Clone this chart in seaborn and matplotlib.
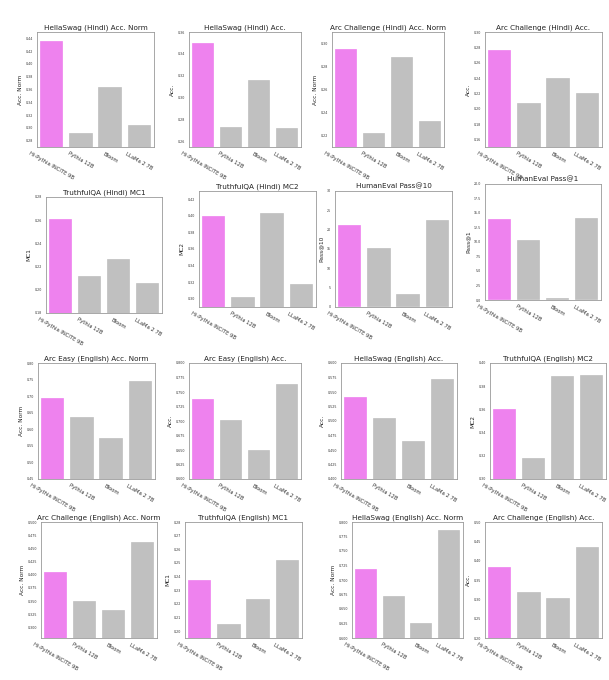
import pandas as pd
import matplotlib
matplotlib.use('Agg')
import matplotlib.pyplot as plt
import seaborn as sns

models = ['Hi-Pythia INCITE 9B', 'Pythia 12B', 'Bloom', 'LLaMa 2 7B']

titles = [
    'HellaSwag (Hindi) Acc. Norm', 'HellaSwag (Hindi) Acc.',
    'Arc Challenge (Hindi) Acc. Norm', 'Arc Challenge (Hindi) Acc.',
    'TruthfulQA (Hindi) MC1', 'TruthfulQA (Hindi) MC2',
    'HumanEval Pass@10', 'HumanEval Pass@1',
    'Arc Easy (English) Acc. Norm', 'Arc Easy (English) Acc.',
    'HellaSwag (English) Acc.', 'TruthfulQA (English) MC2',
    'Arc Challenge (English) Acc. Norm', 'TruthfulQA (English) MC1',
    'HellaSwag (English) Acc. Norm', 'Arc Challenge (English) Acc.',
]
ylabels = ['Acc. Norm', 'Acc.', 'Acc. Norm', 'Acc.',
           'MC1', 'MC2', 'Pass@10', 'Pass@1',
           'Acc. Norm', 'Acc.', 'Acc.', 'MC2',
           'Acc. Norm', 'MC1', 'Acc. Norm', 'Acc.']

scores = [
    [0.4353, 0.2920, 0.3634, 0.3040],
    [0.3497, 0.2733, 0.3160, 0.2720],
    [0.2954, 0.2226, 0.2885, 0.2327],
    [0.2759, 0.2070, 0.2406, 0.2203],
    [0.2610, 0.2122, 0.2263, 0.2059],
    [0.3995, 0.3024, 0.4039, 0.3177],
    [21.29, 15.17, 3.45, 22.41],
    [14.00, 10.43, 0.30, 14.12],
    [0.6931, 0.6367, 0.5722, 0.7456],
    [0.7372, 0.7015, 0.6502, 0.7631],
    [0.5412, 0.5044, 0.4652, 0.5729],
    [0.3605, 0.3179, 0.3890, 0.3896],
    [0.4059, 0.3497, 0.3340, 0.4628],
    [0.2373, 0.2054, 0.2237, 0.2520],
    [0.7195, 0.6724, 0.6259, 0.7856],
    [0.3828, 0.3181, 0.3026, 0.4345],
]
ylims = [(0.27, 0.45), (0.255, 0.36), (0.21, 0.31), (0.15, 0.30),
         (0.18, 0.28), (0.29, 0.43), (0, 30), (0, 20),
         (0.45, 0.80), (0.60, 0.80), (0.40, 0.60), (0.30, 0.40),
         (0.28, 0.50), (0.195, 0.28), (0.60, 0.80), (0.20, 0.50)]
yticks = [
    [0.28, 0.30, 0.32, 0.34, 0.36, 0.38, 0.40, 0.42, 0.44],
    [0.26, 0.28, 0.30, 0.32, 0.34, 0.36],
    [0.22, 0.24, 0.26, 0.28, 0.30],
    [0.16, 0.18, 0.20, 0.22, 0.24, 0.26, 0.28, 0.30],
    [0.18, 0.20, 0.22, 0.24, 0.26, 0.28],
    [0.30, 0.32, 0.34, 0.36, 0.38, 0.40, 0.42],
    [0, 5, 10, 15, 20, 25, 30],
    [0.0, 2.5, 5.0, 7.5, 10.0, 12.5, 15.0, 17.5, 20.0],
    [0.45, 0.50, 0.55, 0.60, 0.65, 0.70, 0.75, 0.80],
    [0.600, 0.625, 0.650, 0.675, 0.700, 0.725, 0.750, 0.775, 0.800],
    [0.400, 0.425, 0.450, 0.475, 0.500, 0.525, 0.550, 0.575, 0.600],
    [0.30, 0.32, 0.34, 0.36, 0.38, 0.40],
    [0.300, 0.325, 0.350, 0.375, 0.400, 0.425, 0.450, 0.475, 0.500],
    [0.20, 0.21, 0.22, 0.23, 0.24, 0.25, 0.26, 0.27, 0.28],
    [0.600, 0.625, 0.650, 0.675, 0.700, 0.725, 0.750, 0.775, 0.800],
    [0.20, 0.25, 0.30, 0.35, 0.40, 0.45, 0.50],
]
tick_fmt = ['%.2f', '%.2f', '%.2f', '%.2f', '%.2f', '%.2f', '%d', '%.1f',
            '%.2f', '%.3f', '%.3f', '%.2f', '%.3f', '%.2f', '%.3f', '%.2f']

# axes boxes in pixels: left, right, top, bottom
boxes = [
    (37, 154, 32, 147), (189, 301, 32, 147), (332, 444, 32, 147), (485, 602, 32, 147),
    (46, 162, 197, 313), (199, 316, 191, 307), (335, 452, 191, 307), (485, 601, 184, 300),
    (38, 155, 363, 479), (189, 301, 363, 479), (341, 457, 363, 479), (490, 606, 363, 479),
    (41, 157, 522, 638), (185, 302, 522, 638), (352, 463, 522, 638), (485, 602, 522, 638),
]

W, H = 609, 680
colors = {models[0]: '#EE82EE', models[1]: '#C0C0C0', models[2]: '#C0C0C0', models[3]: '#C0C0C0'}

sns.set_style('white')
plt.rcParams['font.family'] = ['DejaVu Sans']
fig = plt.figure(figsize=(W / 100, H / 100), dpi=100)

for i in range(16):
    l, r, t, b = boxes[i]
    ax = fig.add_axes([l / W, 1 - b / H, (r - l) / W, (b - t) / H])
    df = pd.DataFrame({'model': models, 'score': scores[i]})
    sns.barplot(data=df, x='model', y='score', hue='model', palette=colors,
                legend=False, ax=ax, width=0.8, saturation=1,
                edgecolor='white', linewidth=0.2)
    ax.set_ylim(*ylims[i])
    ax.set_yticks(yticks[i])
    ax.set_yticklabels([tick_fmt[i] % v for v in yticks[i]], fontsize=2.3)
    ax.set_xticks(range(4))
    ax.set_xticklabels(models, rotation=-30, fontsize=3.8)
    ax.tick_params(axis='both', length=1.5, width=0.4, pad=1.5, colors='#333333')
    ax.set_title(titles[i], fontsize=5.2, pad=2, color='#222222')
    ax.set_ylabel(ylabels[i], fontsize=4.2, labelpad=2)
    ax.set_xlabel('')
    for s in ax.spines.values():
        s.set_color('#999999')
        s.set_linewidth(0.6)

fig.savefig('out.png', dpi=100)
